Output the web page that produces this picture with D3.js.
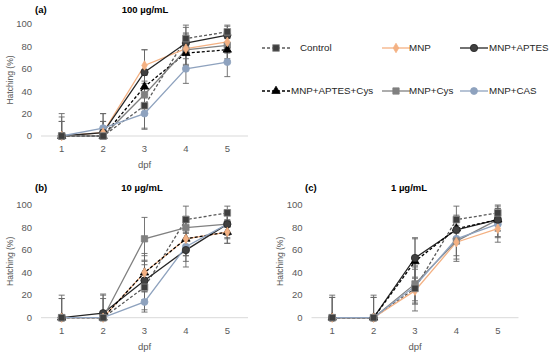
<!DOCTYPE html>
<html>
<head>
<meta charset="utf-8">
<script src="https://cdn.jsdelivr.net/npm/d3@7"></script>
<style>
  body { margin: 0; background: #fff; }
  svg { display: block; font-family: "Liberation Sans", Arial, sans-serif; }
</style>
</head>
<body>
<div id="plot"></div>
<script>
// Days post fertilization
const dpf = [1, 2, 3, 4, 5];
const yTicks = [0, 20, 40, 60, 80, 100];
const seriesNames = ["Control", "MNP", "MNP+APTES", "MNP+APTES+Cys", "MNP+Cys", "MNP+CAS"];

// 100 µg/mL
const a_control = [0, 0, 27, 87, 93];
const a_mnp = [0, 3, 63, 78, 84];
const a_aptes = [0, 3, 57, 83, 90];
const a_aptesCys = [0, 0, 44, 74, 77];
const a_cys = [0, 0, 37, 77, 81];
const a_cas = [0, 7, 20, 60, 66];
const a_err = [
  [20, 20, 20, 12, 6],
  [0, 0, 14, 14, 10],
  [17, 17, 20, 14, 8],
  [13, 13, 14, 13, 10],
  [13, 13, 17, 14, 12],
  [0, 0, 14, 13, 13]
];

// 10 µg/mL
const b_control = [0, 0, 27, 87, 93];
const b_mnp = [0, 0, 40, 70, 76];
const b_aptes = [0, 4, 33, 60, 83];
const b_aptesCys = [0, 0, 40, 70, 76];
const b_cys = [0, 0, 70, 80, 83];
const b_cas = [0, 0, 14, 63, 83];
const b_err = [
  [20, 20, 20, 12, 6],
  [0, 0, 15, 15, 10],
  [17, 17, 17, 15, 12],
  [17, 17, 17, 15, 10],
  [0, 0, 19, 10, 10],
  [0, 0, 9, 13, 13]
];

// 1 µg/mL
const c_control = [0, 0, 26, 87, 93];
const c_mnp = [0, 0, 24, 67, 79];
const c_aptes = [0, 0, 53, 78, 87];
const c_aptesCys = [0, 0, 50, 79, 87];
const c_cys = [0, 0, 30, 68, 87];
const c_cas = [0, 0, 28, 70, 83];
const c_err = [
  [20, 20, 20, 12, 6],
  [0, 0, 12, 15, 12],
  [18, 18, 18, 12, 10],
  [18, 18, 20, 12, 10],
  [0, 0, 15, 18, 15],
  [0, 0, 15, 15, 12]
];

// Series styles
const styles = [
  { line: "#595959", dash: "3,2", shape: d3.symbolSquare, fill: "#3f3f3f", stroke: "#8a8a8a", size: 44 },
  { line: "#F4B183", dash: null, shape: d3.symbolDiamond, fill: "#F4B183", stroke: "#F4B183", size: 26 },
  { line: "#262626", dash: null, shape: d3.symbolCircle, fill: "#404040", stroke: "#262626", size: 42 },
  { line: "#000000", dash: "3,2", shape: d3.symbolTriangle, fill: "#000000", stroke: "#000000", size: 30 },
  { line: "#808080", dash: null, shape: d3.symbolSquare, fill: "#808080", stroke: "#808080", size: 40 },
  { line: "#8EA2BE", dash: null, shape: d3.symbolCircle, fill: "#8EA2BE", stroke: "#8EA2BE", size: 38 }
];

const panels = [
  { tag: "(a)", title: "100 µg/mL", series: [a_control, a_mnp, a_aptes, a_aptesCys, a_cys, a_cas], err: a_err,
    x0: 41, x1: 248, y0: 136, y1: 24, tagX: 35, titleX: 145, titleY: 10, labX: 10 },
  { tag: "(b)", title: "10 µg/mL", series: [b_control, b_mnp, b_aptes, b_aptesCys, b_cys, b_cas], err: b_err,
    x0: 41, x1: 248, y0: 317.7, y1: 205, tagX: 35, titleX: 142, titleY: 188, labX: 10 },
  { tag: "(c)", title: "1 µg/mL", series: [c_control, c_mnp, c_aptes, c_aptesCys, c_cys, c_cas], err: c_err,
    x0: 311.5, x1: 518.5, y0: 317.7, y1: 205, tagX: 305, titleX: 409, titleY: 188, labX: 280 }
];

const width = 550, height = 353;
const svg = d3.select("#plot").append("svg")
  .attr("width", width)
  .attr("height", height);

panels.forEach(p => {
  const x = d3.scalePoint().domain(dpf).range([p.x0, p.x1]).padding(0.5);
  const y = d3.scaleLinear().domain([0, 100]).range([p.y0, p.y1]);
  const g = svg.append("g");

  // baseline
  g.append("line")
    .attr("x1", p.x0).attr("x2", p.x1)
    .attr("y1", y(0)).attr("y2", y(0))
    .attr("stroke", "#d9d9d9").attr("stroke-width", 1);

  // y tick labels
  g.selectAll(".yt").data(yTicks).enter().append("text")
    .attr("x", p.x0 - 9).attr("y", d => y(d)).attr("dy", "0.35em")
    .attr("text-anchor", "end").attr("font-size", 9.5).attr("fill", "#595959")
    .text(d => d);

  // x tick labels
  g.selectAll(".xt").data(dpf).enter().append("text")
    .attr("x", d => x(d)).attr("y", y(0) + 13).attr("dy", "0.35em")
    .attr("text-anchor", "middle").attr("font-size", 9.5).attr("fill", "#595959")
    .text(d => d);

  // axis titles
  g.append("text")
    .attr("x", (p.x0 + p.x1) / 2).attr("y", y(0) + 29).attr("dy", "0.35em")
    .attr("text-anchor", "middle").attr("font-size", 9.5).attr("fill", "#595959")
    .text("dpf");
  g.append("text")
    .attr("transform", `translate(${p.labX},${(p.y0 + p.y1) / 2}) rotate(-90)`)
    .attr("dy", "0.35em")
    .attr("text-anchor", "middle").attr("font-size", 8.5).attr("fill", "#595959")
    .text("Hatching (%)");

  // panel tag and title
  g.append("text")
    .attr("x", p.tagX).attr("y", p.titleY).attr("dy", "0.35em")
    .attr("font-size", 9.5).attr("font-weight", "bold").attr("fill", "#000")
    .text(p.tag);
  g.append("text")
    .attr("x", p.titleX).attr("y", p.titleY).attr("dy", "0.35em")
    .attr("text-anchor", "middle").attr("font-size", 9.5).attr("font-weight", "bold").attr("fill", "#000")
    .text(p.title);

  // error bars
  p.series.forEach((vals, si) => {
    vals.forEach((v, i) => {
      const e = p.err[si][i];
      if (!e) return;
      const top = y(Math.min(100, v + e));
      const bot = y(Math.max(0, v - e));
      const cx = x(dpf[i]);
      g.append("line").attr("x1", cx).attr("x2", cx).attr("y1", top).attr("y2", bot)
        .attr("stroke", "#666").attr("stroke-width", 0.9);
      g.append("line").attr("x1", cx - 3).attr("x2", cx + 3).attr("y1", top).attr("y2", top)
        .attr("stroke", "#666").attr("stroke-width", 0.9);
      if (v - e > 0) {
        g.append("line").attr("x1", cx - 3).attr("x2", cx + 3).attr("y1", bot).attr("y2", bot)
          .attr("stroke", "#666").attr("stroke-width", 0.9);
      }
    });
  });

  // lines
  const line = d3.line().x((d, i) => x(dpf[i])).y(d => y(d));
  p.series.forEach((vals, si) => {
    const s = styles[si];
    g.append("path").datum(vals)
      .attr("d", line)
      .attr("fill", "none")
      .attr("stroke", s.line)
      .attr("stroke-width", 1.3)
      .attr("stroke-dasharray", s.dash);
  });

  // markers (drawn in reverse so Control sits on top)
  p.series.slice().reverse().forEach((vals, ri) => {
    const si = p.series.length - 1 - ri;
    const s = styles[si];
    g.selectAll(null).data(vals).enter().append("path")
      .attr("d", d3.symbol().type(s.shape).size(s.size))
      .attr("transform", (d, i) => `translate(${x(dpf[i])},${y(d)})`)
      .attr("fill", s.fill)
      .attr("stroke", s.stroke)
      .attr("stroke-width", 0.8);
  });
});

// Legend
const legendPos = [
  { lx: 262, y: 48, tx: 300 },
  { lx: 382, y: 48, tx: 409 },
  { lx: 460, y: 48, tx: 489 },
  { lx: 262, y: 91, tx: 291 },
  { lx: 382, y: 91, tx: 409 },
  { lx: 460, y: 91, tx: 489 }
];
const legend = svg.append("g");
seriesNames.forEach((name, i) => {
  const s = styles[i];
  const lp = legendPos[i];
  legend.append("line")
    .attr("x1", lp.lx).attr("x2", lp.lx + 28)
    .attr("y1", lp.y).attr("y2", lp.y)
    .attr("stroke", s.line).attr("stroke-width", 1.3)
    .attr("stroke-dasharray", s.dash);
  legend.append("path")
    .attr("d", d3.symbol().type(s.shape).size(s.size))
    .attr("transform", `translate(${lp.lx + 14},${lp.y})`)
    .attr("fill", s.fill).attr("stroke", s.stroke).attr("stroke-width", 0.8);
  legend.append("text")
    .attr("x", lp.tx).attr("y", lp.y).attr("dy", "0.35em")
    .attr("font-size", 9.8).attr("fill", "#262626")
    .text(name);
});
</script>
</body>
</html>
